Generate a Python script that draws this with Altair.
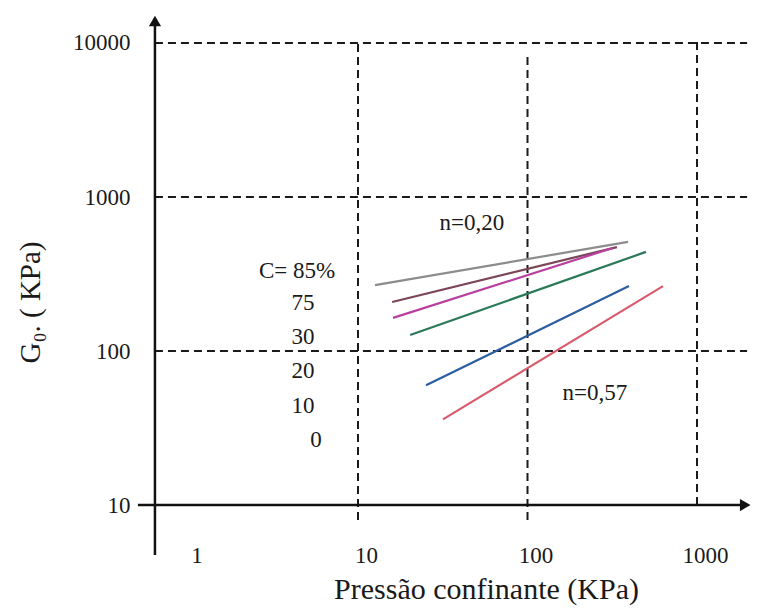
import altair as alt
import pandas as pd

# ---- data (log-log plot) ----
series = ["85", "75", "30", "20", "10", "0"]
sigma_start = [12.6, 15.9, 16.1, 20.3, 25.2, 31.7]
g0_start = [268, 208, 164, 127, 60, 36]
sigma_end = [392, 337, 319, 500, 397, 630]
g0_end = [511, 473, 467, 440, 264, 264]
colors = ["#8c8c8c", "#7a4658", "#b8409e", "#2a7a58", "#2a5ea0", "#d85a6c"]

x_ticks = [1, 10, 100, 1000]
y_ticks = [10, 100, 1000, 10000]

# gridlines
h_grid = [100, 1000, 10000]
v_grid = [10, 100, 1000]
v_grid_bottom = [8.0, 8.0, 10]
v_grid_top = [10000, 8600, 10900]

# annotation texts and their anchors (data units)
ann_text = ["C= 85%", "75", "30", "20", "10", "0", "n=0,20", "n=0,57"]
ann_x = [4.37, 4.74, 4.74, 4.74, 4.74, 5.65, 47, 250]
ann_y = [330, 205, 123, 74, 44, 26.4, 678, 53]

# axis extents
y_axis_at = 0.634
x_axis_at = 10
x_axis_from, x_axis_to = 0.503, 1950
y_axis_from, y_axis_to = 4.73, 13500
grid_x_from, grid_x_to = 0.634, 1975

# ---- build tables ----
rows = []
for s, x0, y0, x1, y1 in zip(series, sigma_start, g0_start, sigma_end, g0_end):
    rows.append({"C": s, "x": x0, "y": y0, "o": 0})
    rows.append({"C": s, "x": x1, "y": y1, "o": 1})
lines_df = pd.DataFrame(rows)

hgrid_df = pd.DataFrame({"y": h_grid, "x": [grid_x_from] * 3, "x2": [grid_x_to] * 3})
vgrid_df = pd.DataFrame({"x": v_grid, "y": v_grid_bottom, "y2": v_grid_top})
ann_df = pd.DataFrame({"t": ann_text, "x": ann_x, "y": ann_y})
xaxis_df = pd.DataFrame({"x": [x_axis_from], "x2": [x_axis_to], "y": [x_axis_at]})
yaxis_df = pd.DataFrame({"x": [y_axis_at], "y": [y_axis_from], "y2": [y_axis_to]})
arrow_df = pd.DataFrame({"x": [y_axis_at, 1925], "y": [13900, x_axis_at],
                         "shape": ["triangle-up", "triangle-right"]})

FONT = "Liberation Serif, Times New Roman, serif"
xs = alt.Scale(type="log", domain=[0.07726, 2353], nice=False, zero=False)
ys = alt.Scale(type="log", domain=[2.144, 19020], nice=False, zero=False)

xax = alt.Axis(values=x_ticks, format="d", orient="bottom", offset=-103,
               domain=False, ticks=False, tickSize=0, grid=False,
               labelPadding=50, labelBaseline="middle", labelOffset=8,
               labelFont=FONT, labelFontSize=23, labelColor="#1a1a1a",
               labelFlush=False, labelOverlap=False,
               title="Pressão confinante (KPa)", titleFont=FONT, titleFontSize=30,
               titleFontWeight="normal", titleColor="#1a1a1a",
               titleX=486, titleY=84, titleAlign="center", titleBaseline="middle")
yax = alt.Axis(values=y_ticks, format="d", orient="left", offset=-155,
               domain=False, ticks=False, tickSize=0, grid=False,
               labelPadding=25, labelFont=FONT, labelFontSize=23,
               labelColor="#1a1a1a", labelFlush=False, labelOverlap=False,
               title="G₀. ( KPa)", titleFont=FONT, titleFontSize=29,
               titleFontWeight="normal", titleColor="#1a1a1a",
               titleX=-125, titleY=302, titleAlign="center", titleBaseline="middle",
               titleAngle=270)

X = alt.X("x:Q", scale=xs, axis=xax)
Y = alt.Y("y:Q", scale=ys, axis=yax)

hgrid = alt.Chart(hgrid_df).mark_rule(strokeDash=[8, 5], strokeWidth=2, color="#1a1a1a").encode(
    x=X, x2="x2:Q", y=Y)
vgrid = alt.Chart(vgrid_df).mark_rule(strokeDash=[8, 5], strokeWidth=2, color="#1a1a1a").encode(
    x=X, y=Y, y2="y2:Q")
xaxis = alt.Chart(xaxis_df).mark_rule(strokeWidth=2.5, color="#111").encode(x=X, x2="x2:Q", y=Y)
yaxis = alt.Chart(yaxis_df).mark_rule(strokeWidth=2.5, color="#111").encode(x=X, y=Y, y2="y2:Q")
arrows = alt.Chart(arrow_df).mark_point(filled=True, size=150, color="#111", opacity=1).encode(
    x=X, y=Y, shape=alt.Shape("shape:N", scale=None))

lines = alt.Chart(lines_df).mark_line(strokeWidth=2.2).encode(
    x=X, y=Y, order="o:Q",
    color=alt.Color("C:N", scale=alt.Scale(domain=series, range=colors), legend=None))

ann = alt.Chart(ann_df).mark_text(font=FONT, fontSize=23, color="#1a1a1a",
                                  align="center", baseline="middle").encode(
    x=X, y=Y, text="t:N")

chart = alt.layer(hgrid, vgrid, lines, xaxis, yaxis, arrows, ann).properties(
    width=760, height=608, padding=0,
    autosize=alt.AutoSizeParams(type="none"),
    background="white",
).configure_view(stroke=None)

chart.save("out.html", embed_options={"renderer": "svg", "actions": False})
